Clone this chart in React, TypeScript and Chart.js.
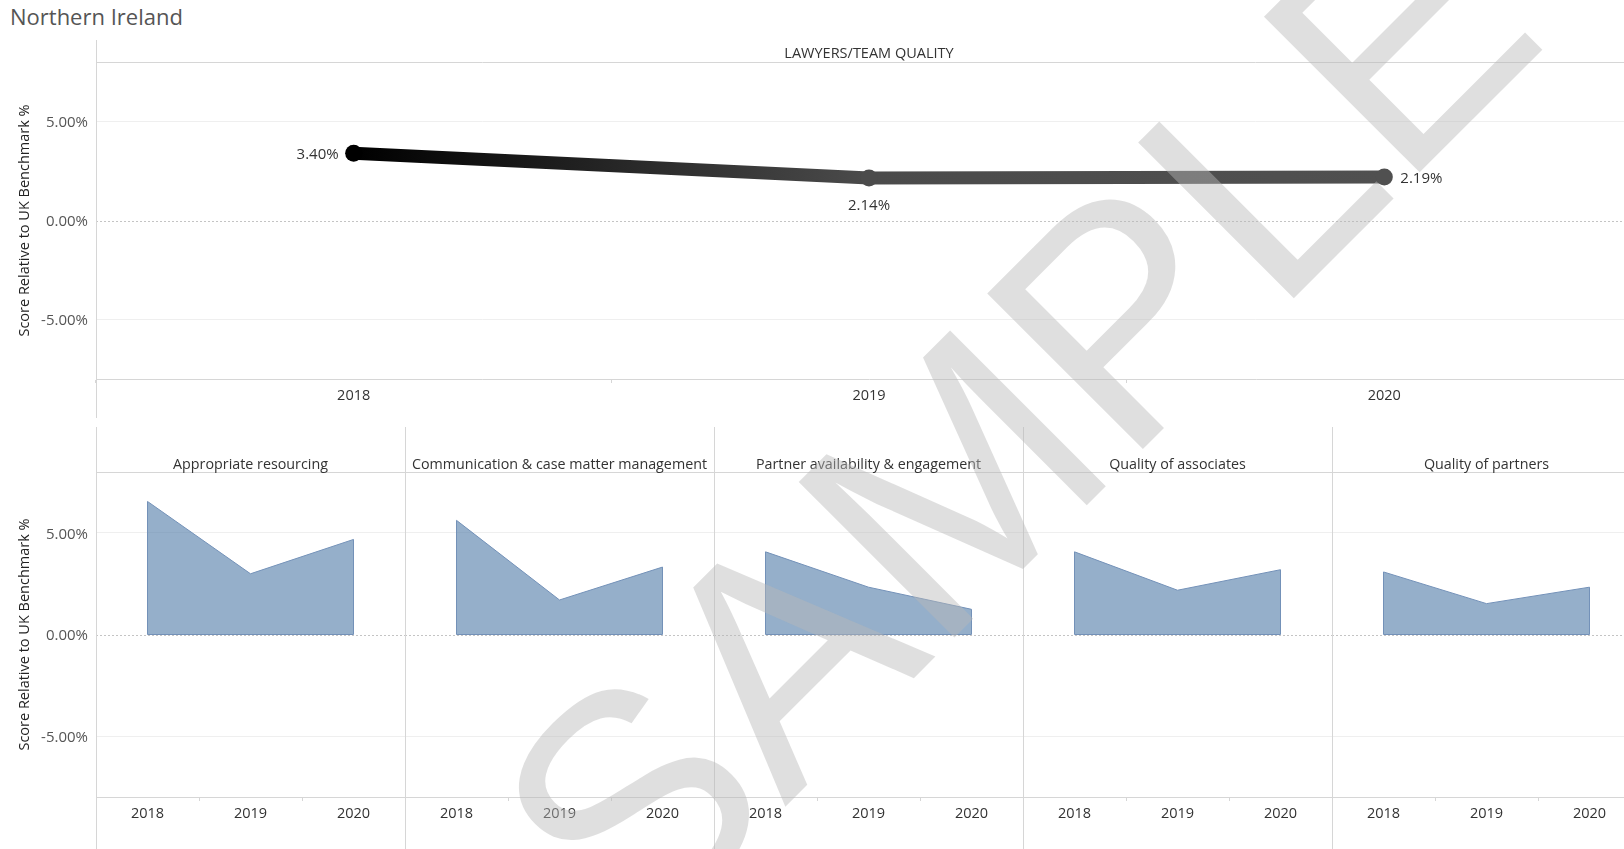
import React, { useEffect, useRef } from 'react';
import { Chart, registerables } from 'chart.js';

Chart.register(...registerables);

// ---------- data ----------
const pageTitle = 'Northern Ireland';
const topHeader = 'LAWYERS/TEAM QUALITY';
const axisTitle = 'Score Relative to UK Benchmark %';
const years = ['2018', '2019', '2020'];
const overallScores = [3.4, 2.14, 2.19];
const overallColors = ['#000000', '#4b4b4b', '#505050'];
const overallLabelPlacement = ['left', 'below', 'right'];
const yTickValues = [-5, 0, 5];
const yMin = -8;
const yMax = 8;

const panelTitles = [
  'Appropriate resourcing',
  'Communication & case matter management',
  'Partner availability & engagement',
  'Quality of associates',
  'Quality of partners',
];
const appropriateResourcing = [6.55, 2.99, 4.68];
const communicationCaseMatter = [5.62, 1.7, 3.32];
const partnerAvailability = [4.07, 2.33, 1.24];
const qualityOfAssociates = [4.07, 2.18, 3.19];
const qualityOfPartners = [3.08, 1.52, 2.33];
const panelSeries = [
  appropriateResourcing,
  communicationCaseMatter,
  partnerAvailability,
  qualityOfAssociates,
  qualityOfPartners,
];
const watermarkText = 'SAMPLE';

// ---------- layout / style ----------
const FONT = '"Open Sans", sans-serif';
const PANE_LEFT = 96;
const TOP_W = 1642;
const TOP_H = 380;
const TOP_Y = 40;
const PANEL_W = 309;
const PANEL_Y = 420;
const PANEL_H = 429;
const RULE = '#d6d6d6';
const GRID = '#efefef';
const AREA_FILL = 'rgba(78,121,167,0.6)';
const AREA_LINE = '#7391b8';

const fmt = (v: number) => Number(v).toFixed(2) + '%';

function framePlugin(header: string, headerY: number, headerSize: number, lineTop: number, lineBottom: number) {
  return {
    id: 'frame',
    beforeDatasetsDraw(chart: any) {
      const { ctx, chartArea: a, scales } = chart;
      const y0 = Math.round(scales.y.getPixelForValue(0)) + 0.5;
      ctx.save();
      ctx.lineWidth = 1;
      ctx.strokeStyle = '#c4c4c4';
      ctx.setLineDash([2, 2]);
      ctx.beginPath();
      ctx.moveTo(a.left, y0);
      ctx.lineTo(a.right, y0);
      ctx.stroke();
      ctx.setLineDash([]);
      ctx.strokeStyle = RULE;
      const yt = Math.round(a.top) + 0.5;
      ctx.beginPath();
      ctx.moveTo(a.left, yt);
      ctx.lineTo(a.right, yt);
      ctx.stroke();
      const xl = Math.round(a.left) + 0.5;
      ctx.beginPath();
      ctx.moveTo(xl, lineTop);
      ctx.lineTo(xl, lineBottom);
      ctx.stroke();
      ctx.fillStyle = '#333';
      ctx.font = `${headerSize}px ${FONT}`;
      ctx.textAlign = 'center';
      ctx.textBaseline = 'middle';
      ctx.fillText(header, (a.left + a.right) / 2, headerY);
      ctx.restore();
    },
  };
}

const areaEdgePlugin = {
  id: 'areaEdges',
  afterDatasetsDraw(chart: any) {
    const meta = chart.getDatasetMeta(0);
    const pts = meta.data;
    if (!pts.length) return;
    const y0 = chart.scales.y.getPixelForValue(0);
    const { ctx } = chart;
    ctx.save();
    ctx.strokeStyle = AREA_LINE;
    ctx.lineWidth = 1;
    [pts[0], pts[pts.length - 1]].forEach((p: any) => {
      ctx.beginPath();
      ctx.moveTo(p.x, p.y);
      ctx.lineTo(p.x, y0);
      ctx.stroke();
    });
    ctx.beginPath();
    ctx.moveTo(pts[0].x, y0);
    ctx.lineTo(pts[pts.length - 1].x, y0);
    ctx.stroke();
    ctx.restore();
  },
};

const topLabelPlugin = {
  id: 'topLabels',
  afterDatasetsDraw(chart: any) {
    const meta = chart.getDatasetMeta(0);
    const { ctx } = chart;
    ctx.save();
    ctx.font = `15px ${FONT}`;
    ctx.fillStyle = '#333';
    ctx.textBaseline = 'middle';
    meta.data.forEach((p: any, i: number) => {
      const text = fmt(overallScores[i]);
      const place = overallLabelPlacement[i];
      if (place === 'left') {
        ctx.textAlign = 'right';
        ctx.fillText(text, p.x - 15, p.y + 1.5);
      } else if (place === 'right') {
        ctx.textAlign = 'left';
        ctx.fillText(text, p.x + 16, p.y + 1.5);
      } else {
        ctx.textAlign = 'center';
        ctx.fillText(text, p.x, p.y + 27.5);
      }
    });
    ctx.restore();
  },
};

function yScale(showLabels: boolean, width: number) {
  return {
    min: yMin,
    max: yMax,
    afterBuildTicks: (s: any) => {
      s.ticks = yTickValues.map((v) => ({ value: v }));
    },
    afterFit: (s: any) => {
      s.width = width;
    },
    ticks: {
      display: showLabels,
      callback: (v: any) => fmt(v),
      font: { family: FONT, size: 15 },
      color: '#555',
      padding: 8,
      labelOffset: 1.5,
    },
    title: {
      display: showLabels,
      text: axisTitle,
      font: { family: FONT, size: 14.5 },
      color: '#222',
      padding: { top: 16, bottom: 0 },
    },
    grid: {
      color: (c: any) => (c.tick && c.tick.value === 0 ? 'rgba(0,0,0,0)' : GRID),
      drawTicks: false,
    },
    border: { display: false },
  };
}

function xScale(height: number, pad: number) {
  return {
    type: 'category' as const,
    offset: true,
    afterFit: (s: any) => {
      s.height = height;
    },
    ticks: {
      font: { family: FONT, size: 14.5 },
      color: '#333',
      padding: pad,
      maxRotation: 0,
      autoSkip: false,
    },
    grid: {
      offset: true,
      drawOnChartArea: false,
      drawTicks: true,
      tickLength: 4,
      color: RULE,
    },
    border: { display: true, color: RULE },
  };
}

export default function App() {
  const topRef = useRef<HTMLCanvasElement | null>(null);
  const panelRefs = useRef<(HTMLCanvasElement | null)[]>([]);

  useEffect(() => {
    const charts: Chart[] = [];
    if (topRef.current) {
      charts.push(
        new Chart(topRef.current, {
          type: 'line',
          data: {
            labels: years,
            datasets: [
              {
                data: overallScores,
                borderWidth: 13,
                borderCapStyle: 'round',
                borderJoinStyle: 'round',
                borderColor: (c: any) => {
                  const chart = c.chart;
                  const xs = chart.scales && chart.scales.x;
                  if (!xs || !chart.chartArea) return overallColors[0];
                  const x0 = xs.getPixelForValue(0);
                  const x1 = xs.getPixelForValue(overallColors.length - 1);
                  const g = chart.ctx.createLinearGradient(x0, 0, x1, 0);
                  overallColors.forEach((col, i) => g.addColorStop(i / (overallColors.length - 1), col));
                  return g;
                },
                pointRadius: 8.5,
                pointBackgroundColor: overallColors,
                pointBorderWidth: 0,
                fill: false,
                tension: 0,
              } as any,
            ],
          },
          options: {
            responsive: false,
            maintainAspectRatio: false,
            animation: false,
            events: [],
            layout: { autoPadding: false, padding: { top: 22, left: 0, right: 0, bottom: 0 } },
            plugins: { legend: { display: false }, tooltip: { enabled: false } },
            scales: {
              x: xScale(41, 4) as any,
              y: yScale(true, PANE_LEFT) as any,
            },
          } as any,
          plugins: [framePlugin(topHeader, 14, 14.5, 0, 378), topLabelPlugin],
        })
      );
    }
    panelSeries.forEach((series, i) => {
      const el = panelRefs.current[i];
      if (!el) return;
      charts.push(
        new Chart(el, {
          type: 'line',
          data: {
            labels: years,
            datasets: [
              {
                data: series,
                borderColor: AREA_LINE,
                borderWidth: 1,
                backgroundColor: AREA_FILL,
                fill: 'origin',
                pointRadius: 0,
                tension: 0,
              },
            ],
          },
          options: {
            responsive: false,
            maintainAspectRatio: false,
            animation: false,
            events: [],
            layout: { autoPadding: false, padding: { top: 52, left: 0, right: 0, bottom: 0 } },
            plugins: { legend: { display: false }, tooltip: { enabled: false } },
            scales: {
              x: xScale(52, 4) as any,
              y: yScale(i === 0, i === 0 ? PANE_LEFT : 0) as any,
            },
          } as any,
          plugins: [framePlugin(panelTitles[i], 44.5, 14.3, 7, PANEL_H), areaEdgePlugin],
        })
      );
    });
    return () => charts.forEach((c) => c.destroy());
  }, []);

  return (
    <div
      style={{
        position: 'fixed',
        left: 0,
        top: 0,
        width: 1624,
        height: 849,
        overflow: 'hidden',
        background: '#fff',
        fontFamily: FONT,
      }}
    >
      <div
        style={{
          position: 'absolute',
          left: 10,
          top: 1,
          fontSize: 22,
          lineHeight: '30px',
          color: '#555',
          whiteSpace: 'nowrap',
        }}
      >
        {pageTitle}
      </div>
      <canvas
        ref={topRef}
        width={TOP_W}
        height={TOP_H}
        style={{ position: 'absolute', left: 0, top: TOP_Y, width: TOP_W, height: TOP_H }}
      />
      {panelTitles.map((t, i) => {
        const left = i === 0 ? 0 : PANE_LEFT + PANEL_W * i;
        const w = i === 0 ? PANE_LEFT + PANEL_W : PANEL_W;
        return (
          <canvas
            key={t}
            ref={(el) => {
              panelRefs.current[i] = el;
            }}
            width={w}
            height={PANEL_H}
            style={{ position: 'absolute', left, top: PANEL_Y, width: w, height: PANEL_H }}
          />
        );
      })}
      <svg
        width={1624}
        height={849}
        style={{ position: 'absolute', left: 0, top: 0, pointerEvents: 'none' }}
      >
        <text
          transform="translate(634 958) rotate(-45)"
          x={0}
          y={0}
          fontFamily='"Liberation Sans", Arial, sans-serif'
          fontSize={320}
          fill="rgba(185,185,185,0.45)"
        >
          {watermarkText}
        </text>
      </svg>
    </div>
  );
}
